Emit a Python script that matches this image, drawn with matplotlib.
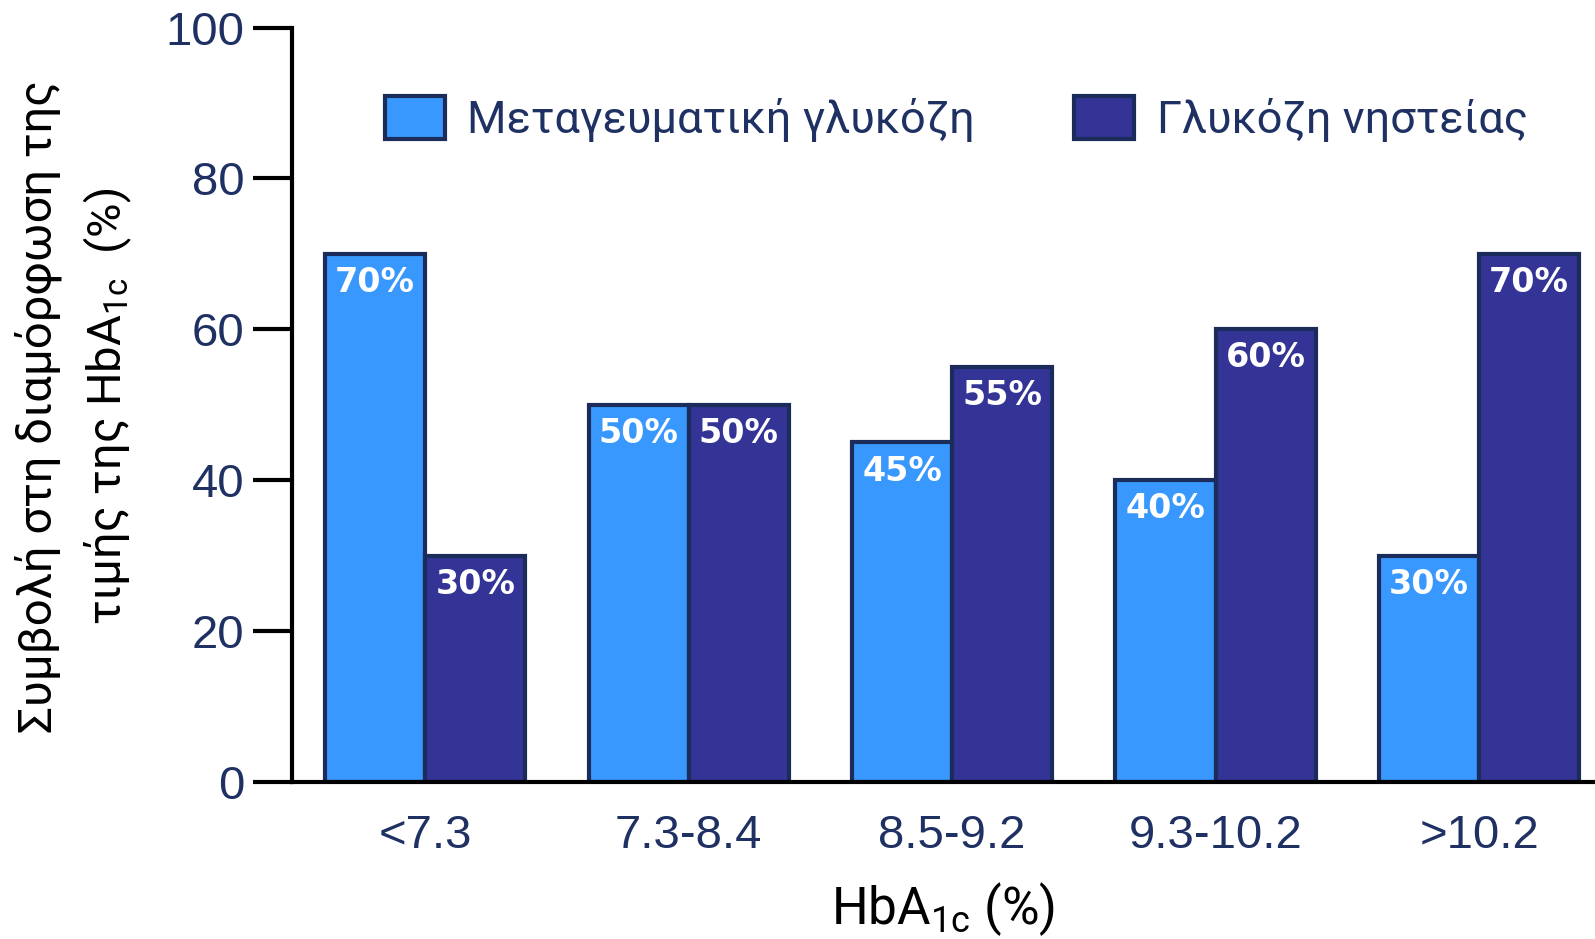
import matplotlib
matplotlib.use("Agg")
import matplotlib.pyplot as plt
import numpy as np

# HbA1c bands and the share of each glucose component
categories = ["<7.3", "7.3-8.4", "8.5-9.2", "9.3-10.2", ">10.2"]
postprandial = [70, 50, 45, 40, 30]
fasting = [30, 50, 55, 60, 70]
series_names = ["Μεταγευματική γλυκόζη", "Γλυκόζη νηστείας"]
yticks = [0, 20, 40, 60, 80, 100]

LIGHT = "#3898fd"
DARK = "#343496"
EDGE = "#1b2b5a"
NAVY = "#1f3163"

plt.rcParams["font.family"] = ["Roboto", "DejaVu Sans"]
plt.rcParams["mathtext.default"] = "regular"

fig = plt.figure(figsize=(15.95, 9.39), dpi=100)
ax = fig.add_axes([0.183, 0.1672, 0.817, 0.8035])

x = np.arange(len(categories))
w = 0.38
b1 = ax.bar(x - w / 2, postprandial, w, color=LIGHT, edgecolor=EDGE, linewidth=3,
            label=series_names[0], zorder=2)
b2 = ax.bar(x + w / 2, fasting, w, color=DARK, edgecolor=EDGE, linewidth=3,
            label=series_names[1], zorder=2)

for bars, vals in ((b1, postprandial), (b2, fasting)):
    for r, v in zip(bars, vals):
        ax.text(r.get_x() + r.get_width() / 2, v - 3.8, f"{v}%", ha="center", va="center",
                color="white", fontsize=24, fontweight="bold", fontfamily="DejaVu Sans",
                zorder=3)

ax.set_xlim(-0.506, 4.44)
ax.set_ylim(0, 100)
ax.set_yticks(yticks)
ax.set_xticks(x)
ax.set_xticklabels(categories)

for s in ("top", "right"):
    ax.spines[s].set_visible(False)
for s in ("left", "bottom"):
    ax.spines[s].set_linewidth(3)
    ax.spines[s].set_color("black")

ax.tick_params(axis="y", direction="out", length=28, width=3, color="black",
               labelsize=34, labelcolor=NAVY, pad=6)
ax.tick_params(axis="x", length=0, labelsize=34, labelcolor=NAVY, pad=23)
for lab in ax.get_xticklabels() + ax.get_yticklabels():
    lab.set_fontfamily("Liberation Sans")

ax.set_xlabel("HbA$_{1c}$ (%)", fontsize=37, color="black", labelpad=16)
fig.text(0.0467, 0.567, "Συμβολή στη διαμόρφωση της\nτιμής της HbA$_{1c}$  (%)",
         rotation=90, ha="center", va="center", fontsize=34, color="black",
         linespacing=1.5)

leg = fig.legend(handles=[b1, b2], loc="upper left", bbox_to_anchor=(0.2415, 0.898),
                 ncol=2, frameon=False, fontsize=32.5, handlelength=1.32,
                 handleheight=1.08, handletextpad=0.5, columnspacing=2.2,
                 borderpad=0, borderaxespad=0)
for t in leg.get_texts():
    t.set_color(NAVY)

fig.savefig("out.png", dpi=100)
